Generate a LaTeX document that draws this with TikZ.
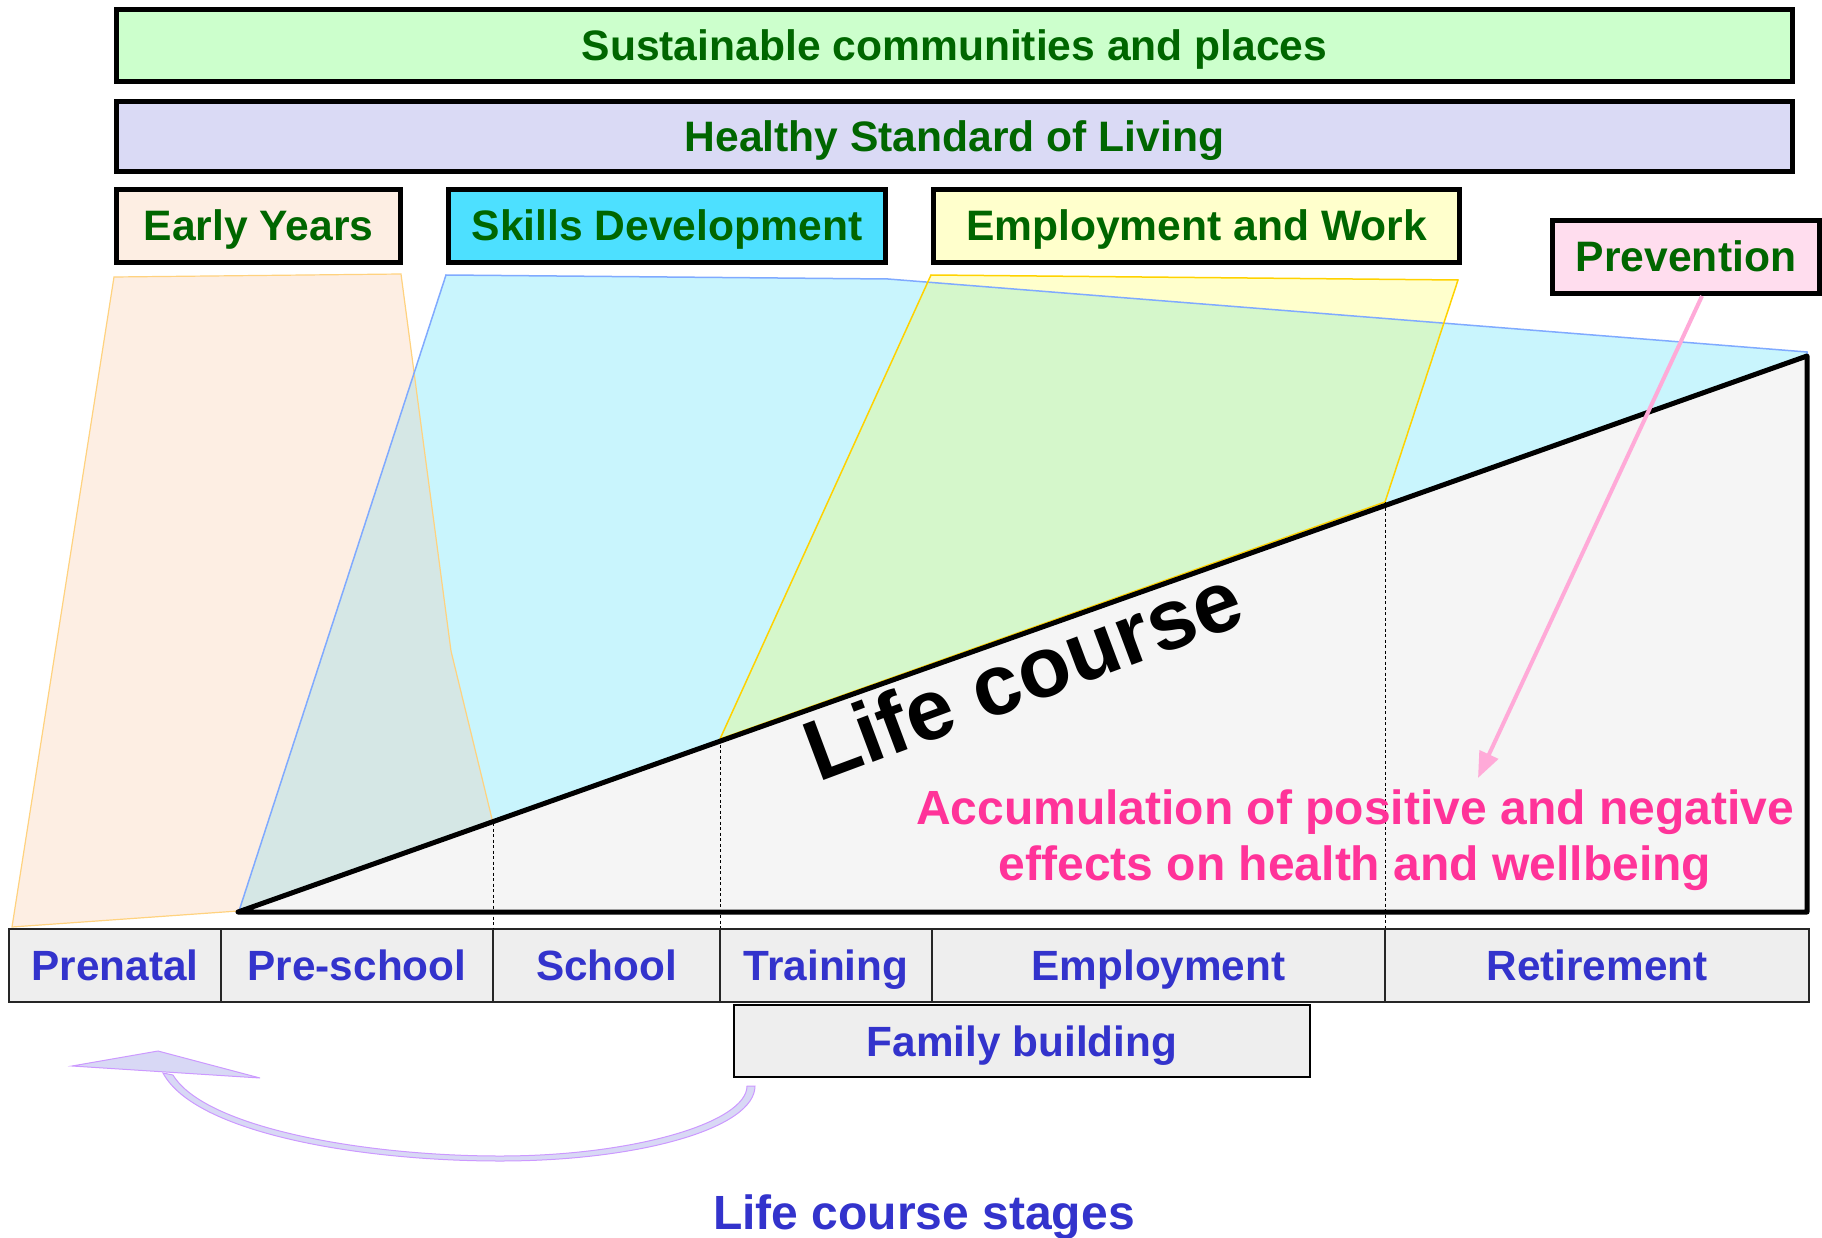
\documentclass[tikz,border=0pt]{standalone}
\usepackage{fontspec}
\setmainfont{Liberation Sans}
\usetikzlibrary{arrows.meta}
\definecolor{tgreen}{HTML}{006600}
\definecolor{tblue}{HTML}{3333CC}
\definecolor{tpink}{HTML}{FF3399}
\definecolor{fsust}{HTML}{CCFFCC}
\definecolor{fhealth}{HTML}{DADAF5}
\definecolor{fearly}{HTML}{FDEEE3}
\definecolor{fskills}{HTML}{4DE0FF}
\definecolor{fwork}{HTML}{FFFFCC}
\definecolor{fprev}{HTML}{FFDDEE}
\definecolor{peachfill}{HTML}{FDEEE3}
\definecolor{peachline}{HTML}{FFD27F}
\definecolor{bluefill}{HTML}{C9F5FD}
\definecolor{blueline}{HTML}{80AAFF}
\definecolor{pboverlap}{HTML}{D5E7E5}
\definecolor{yellowline}{HTML}{FFD200}
\definecolor{yboverlap}{HTML}{D5F7CB}
\definecolor{trifill}{HTML}{F5F5F5}
\definecolor{stagefill}{HTML}{EEEEEE}
\definecolor{arrowfill}{HTML}{D8D8F5}
\definecolor{arrowline}{HTML}{CC99FF}
\definecolor{prevarrow}{HTML}{FFAAD8}
\begin{document}
\begin{tikzpicture}[x=1pt,y=-1pt,
  topbox/.style={draw=black, line width=5pt, inner sep=0pt, text height=30pt, text depth=0pt,
    font=\fontsize{42.6}{50}\selectfont\bfseries, text=tgreen},
  stagebox/.style={draw=black!85, fill=stagefill, line width=1.5pt, inner sep=0pt,
    minimum height=73pt, text height=30pt, text depth=0pt,
    font=\fontsize{42.3}{50}\selectfont\bfseries, text=tblue},
  dashline/.style={draw=black, line width=0.8pt, dash pattern=on 3pt off 2.5pt},
  pinktext/.style={font=\fontsize{48}{56}\selectfont\bfseries, text=tpink, inner sep=0pt, anchor=base}
]
\useasboundingbox (0,0) rectangle (1822,1238);

% ---- coloured influence areas ----
\def\peachpath{(114,277) -- (401,274) -- (451,651) -- (493,823) -- (238,911) -- (12,927) -- cycle}
\def\bluepath{(446,275) -- (888,279) -- (1807,352) -- (1807,356) -- (239,911) -- cycle}
\def\yellowpath{(931,275) -- (1458,280) -- (1385,502) -- (720,739) -- cycle}
\fill[peachfill] \peachpath;
\fill[bluefill] \bluepath;
\begin{scope}
  \clip \peachpath;
  \fill[pboverlap] \bluepath;
\end{scope}
\fill[fwork] \yellowpath;
\begin{scope}
  \clip \bluepath;
  \fill[yboverlap] \yellowpath;
\end{scope}
\draw[peachline, line width=1.2pt] \peachpath;
\draw[blueline, line width=1.5pt] \bluepath;
\draw[yellowline, line width=1.5pt] \yellowpath;

% ---- life course triangle ----
\coordinate (t1) at (238,912);
\coordinate (t2) at (1807,356);
\coordinate (t3) at (1807,912);
\fill[trifill] (t1) -- (t2) -- (t3) -- cycle;
\draw[black, line width=5pt, line join=round] (t1) -- (t2) -- (t3) -- cycle;

% ---- top boxes ----
\node[topbox, fill=fsust, minimum width=1676pt, minimum height=72pt] (sust) at (954.5,45.5) {Sustainable communities and places};
\node[topbox, fill=fhealth, minimum width=1676pt, minimum height=70pt] (health) at (954.5,136.5) {Healthy Standard of Living};
\node[topbox, fill=fearly, minimum width=284pt, minimum height=73pt] (early) at (258.5,226) {Early Years};
\node[topbox, fill=fskills, minimum width=437pt, minimum height=73pt] (skills) at (667,226) {Skills Development};
\node[topbox, fill=fwork, minimum width=526pt, minimum height=73pt] (work) at (1196.5,226) {Employment and Work};
\node[topbox, fill=fprev, minimum width=267pt, minimum height=73pt] (prev) at (1686,257) {Prevention};

% ---- stage boxes ----
\node[stagebox, minimum width=212pt] (prenatal) at (115,965.5) {Prenatal};
\node[stagebox, minimum width=272pt] (preschool) at (357,965.5) {Pre-school};
\node[stagebox, minimum width=227pt] (school) at (606.5,965.5) {School};
\node[stagebox, minimum width=212pt] (training) at (826,965.5) {Training};
\node[stagebox, minimum width=453pt] (employment) at (1158.5,965.5) {Employment};
\node[stagebox, minimum width=424pt] (retirement) at (1597,965.5) {Retirement};
\node[stagebox, draw=black, line width=2pt, minimum width=576pt, minimum height=72pt] (family) at (1022,1041) {Family building};

% ---- dashed stage boundaries ----
\coordinate (d1) at (493,823);
\coordinate (d2) at (720,739);
\coordinate (d3) at (1385,502);
\draw[dashline] (d1) -- (d1 |- school.north);
\draw[dashline] (d2) -- (d2 |- training.north);
\draw[dashline] (d3) -- (d3 |- retirement.north);

% ---- life course label ----
\node[font=\fontsize{86}{100}\selectfont\bfseries, inner sep=0pt, anchor=base west, rotate=20.5] (lc) at (818,783) {Life course};

% ---- accumulation text ----
\node[pinktext] (acc1) at (1355,824) {Accumulation of positive and negative};
\node[pinktext] (acc2) at (1355,880) {effects on health and wellbeing};

% ---- prevention arrow ----
\coordinate (pend) at (1478,778);
\draw[prevarrow, line width=4pt, -{Triangle[length=26pt,width=20pt]}] ([xshift=16pt]prev.south) -- (pend);

% ---- curved return arrow ----
\fill[arrowfill, draw=arrowline, line width=1pt]
  (163,1073) .. controls (195,1133) and (360,1161) .. (500,1161)
  .. controls (640,1161) and (755,1128) .. (755,1086)
  -- (747,1086)
  .. controls (747,1122) and (635,1156) .. (500,1156)
  .. controls (365,1156) and (205,1128) .. (173,1075) -- cycle;
\fill[arrowfill, draw=arrowline, line width=1pt] (72,1066) -- (158,1051) -- (260,1078) -- cycle;

% ---- title ----
\node[font=\fontsize{48}{56}\selectfont\bfseries, text=tblue, inner sep=0pt, anchor=base] (stages) at (924,1229) {Life course stages};
\end{tikzpicture}
\end{document}
